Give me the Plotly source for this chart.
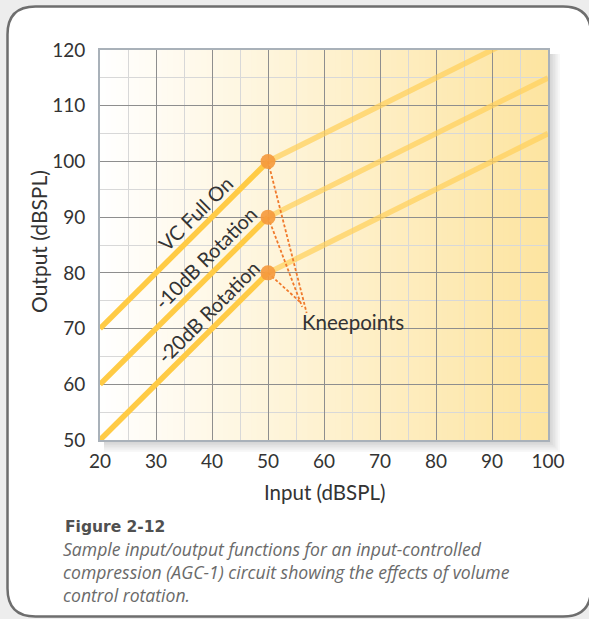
import plotly.graph_objects as go

# ---------------- data ----------------
input_db = [20, 50, 100]
vc_full_on = [70, 100, 125]
rot_minus10 = [60, 90, 115]
rot_minus20 = [50, 80, 105]
series_names = ["VC Full On", "-10dB Rotation", "-20dB Rotation"]
knee_input = 50
knee_output = [100, 90, 80]
label_x = [37.1, 38.75, 39.3]
label_y = [90.7, 82.75, 72.97]
leader_end_x = [56.9, 56.1, 55.7]
leader_end_y = [72.8, 73.9, 74.8]
x_ticks = [20, 30, 40, 50, 60, 70, 80, 90, 100]
y_ticks = [50, 60, 70, 80, 90, 100, 110, 120]

W, H = 589, 619
L, R, T, B = 100, 41, 50, 179
PW, PH = W - L - R, H - T - B


def px(x):
    return (x - L) / PW


def py(y):
    return (H - B - y) / PH


FONT = "Lato"
TXT = "#333333"

fig = go.Figure()

all_series = [vc_full_on, rot_minus10, rot_minus20]
for name, ys in zip(series_names, all_series):
    fig.add_trace(go.Scatter(x=input_db[:2], y=ys[:2], mode="lines",
                             line=dict(color="#FFCB45", width=5.5),
                             hoverinfo="skip", showlegend=False))
    fig.add_trace(go.Scatter(x=input_db[1:], y=ys[1:], mode="lines",
                             line=dict(color="rgba(255,208,90,0.72)", width=5.5),
                             hoverinfo="skip", showlegend=False))

for k, ex, ey in zip(knee_output, leader_end_x, leader_end_y):
    fig.add_trace(go.Scatter(x=[knee_input, ex], y=[k, ey], mode="lines",
                             line=dict(color="#F07A2C", width=1.8, dash="3px,2px"),
                             hoverinfo="skip", showlegend=False))

fig.add_trace(go.Scatter(x=[knee_input] * len(knee_output), y=knee_output, mode="markers",
                         marker=dict(size=15, color="#F59A3E", opacity=0.92),
                         hoverinfo="skip", showlegend=False))

# ---------------- shapes ----------------
shapes = []
# rounded white panel
x0, x1, y0, y1, r = 7.5, 591, 6.5, 616.5, 28
path = (f"M {px(x0)},{py(y0 + r)} Q {px(x0)},{py(y0)} {px(x0 + r)},{py(y0)} "
        f"L {px(x1 - r)},{py(y0)} Q {px(x1)},{py(y0)} {px(x1)},{py(y0 + r)} "
        f"L {px(x1)},{py(y1 - r)} Q {px(x1)},{py(y1)} {px(x1 - r)},{py(y1)} "
        f"L {px(x0 + r)},{py(y1)} Q {px(x0)},{py(y1)} {px(x0)},{py(y1 - r)} Z")
shapes.append(dict(type="path", path=path, xref="paper", yref="paper",
                   fillcolor="white", line=dict(color="#6e6e6e", width=2.5), layer="below"))
# soft drop shadow
for i in range(1, 8):
    shapes.append(dict(type="rect", xref="paper", yref="paper",
                       x0=px(L + 4), x1=px(L + PW + i * 1.7),
                       y0=py(T + PH + i * 1.7), y1=py(T + 4),
                       fillcolor="rgba(60,60,70,0.035)", line=dict(width=0), layer="below"))
# horizontal gradient of plot area
n = 80
c0, c1 = (255, 255, 255), (253, 228, 160)
for i in range(n):
    t = (i + 0.5) / n
    c = tuple(round(a + (b - a) * t) for a, b in zip(c0, c1))
    shapes.append(dict(type="rect", xref="paper", yref="paper",
                       x0=i / n, x1=(i + 1) / n + 0.002, y0=0, y1=1,
                       fillcolor=f"rgb{c}", line=dict(width=0), layer="below"))

# ---------------- annotations ----------------
ann = []
for name, lx, ly in zip(series_names, label_x, label_y):
    ann.append(dict(x=lx, y=ly, xref="x", yref="y", text=name, showarrow=False,
                    textangle=-45, font=dict(family=FONT, size=20, color=TXT),
                    xanchor="center", yanchor="middle"))
ann.append(dict(x=55.8, y=71.2, xref="x", yref="y", text="Kneepoints", showarrow=False,
                font=dict(family=FONT, size=20.5, color=TXT), xanchor="left", yanchor="middle"))
ann.append(dict(x=px(38), y=py(242), xref="paper", yref="paper", text="Output (dBSPL)",
                showarrow=False, textangle=-90, font=dict(family=FONT, size=21, color=TXT),
                xanchor="center", yanchor="middle"))
ann.append(dict(x=px(324), y=py(492), xref="paper", yref="paper", text="Input (dBSPL)",
                showarrow=False, font=dict(family=FONT, size=20.5, color=TXT),
                xanchor="center", yanchor="middle"))
ann.append(dict(x=px(63), y=py(527), xref="paper", yref="paper", text="<b>Figure 2-12</b>",
                showarrow=False, font=dict(family="DejaVu Sans", size=15.5, color="#505050"),
                xanchor="left", yanchor="middle"))
caption = ["Sample input/output functions for an input-controlled",
           "compression (AGC-1) circuit showing the effects of volume",
           "control rotation."]
ann.append(dict(x=px(62), y=py(535.5), xref="paper", yref="paper",
                text="<br>".join(f"<i>{line}</i>" for line in caption), showarrow=False,
                font=dict(family="Open Sans", size=17.6, color="#6a6a6a"),
                xanchor="left", yanchor="top", align="left", borderpad=0))

axis_common = dict(showgrid=True, gridcolor="#8e8e8e", gridwidth=1.3,
                   showline=True, linecolor="#a9b1b9", linewidth=2, mirror=True,
                   ticks="", zeroline=False, fixedrange=True,
                   tickfont=dict(family=FONT, size=19, color=TXT))

fig.update_layout(
    width=W, height=H,
    margin=dict(l=L, r=R, t=T, b=B),
    paper_bgcolor="#ededed",
    plot_bgcolor="rgba(0,0,0,0)",
    showlegend=False,
    xaxis=dict(range=[20, 100], tickvals=x_ticks, ticklabelstandoff=3,
               minor=dict(dtick=5, tick0=20, showgrid=True, gridcolor="#d8d8d8", gridwidth=1.2),
               **axis_common),
    yaxis=dict(range=[50, 120], tickvals=y_ticks, ticklabelstandoff=9,
               minor=dict(dtick=5, tick0=50, showgrid=True, gridcolor="#d8d8d8", gridwidth=1.2),
               **axis_common),
    shapes=shapes,
    annotations=ann,
)

fig.write_html("out.html", config={"displayModeBar": False},
               post_script="document.body.style.margin='0';")
